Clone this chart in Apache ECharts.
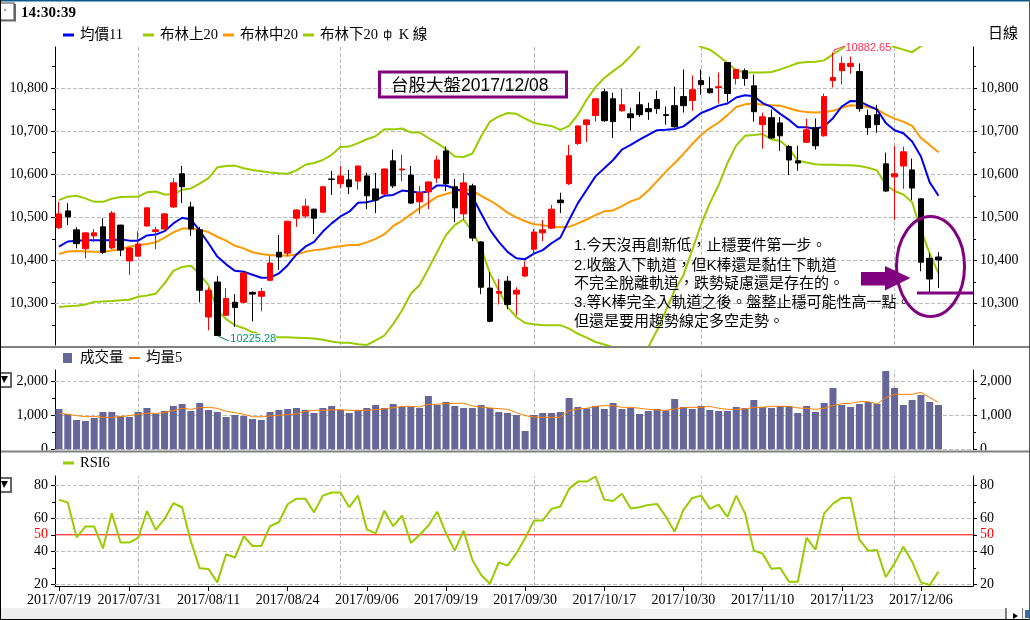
<!DOCTYPE html>
<html><head><meta charset="utf-8">
<style>html,body{margin:0;padding:0;background:#fff;overflow:hidden}#c{width:1030px;height:620px}</style>
<script src="https://cdn.jsdelivr.net/npm/echarts@6/dist/echarts.min.js"></script>
</head><body><div id="c"></div>
<script>
const opens=[10476,10515,10471,10427,10457,10478,10429,10482,10399,10410,
10480,10467,10473,10524,10601,10524,10471,10269,10350,10273,
10303,10303,10326,10317,10354,10419,10417,10498,10503,10519,
10512,10589,10578,10587,10584,10596,10566,10554,10631,10610,
10598,10536,10559,10591,10654,10571,10508,10573,10443,10336,
10324,10352,10322,10364,10426,10464,10475,10540,10578,10671,
10715,10736,10791,10775,10747,10740,10761,10752,10773,10738,
10759,10780,10771,10817,10798,10801,10859,10822,10840,10805,
10715,10731,10719,10664,10631,10674,10708,10689,10817,10840,
10850,10838,10736,10738,10624,10594,10619,10610,10543,10405,10408];
const closes=[10508,10501,10439,10464,10464,10419,10510,10424,10429,10438,
10522,10471,10508,10580,10571,10473,10331,10331,10226,10312,
10291,10371,10322,10328,10394,10408,10491,10517,10526,10498,
10571,10588,10596,10571,10619,10550,10540,10612,10573,10612,
10533,10557,10582,10633,10578,10522,10580,10452,10338,10259,
10328,10298,10331,10384,10466,10471,10519,10534,10643,10712,
10726,10775,10724,10722,10761,10731,10738,10745,10752,10736,
10710,10759,10796,10808,10789,10803,10787,10843,10822,10745,
10733,10684,10689,10633,10626,10703,10666,10780,10824,10857,
10857,10752,10708,10715,10561,10601,10652,10568,10396,10357,10401];
const lows=[10473,10482,10428,10405,10443,10415,10426,10410,10366,10409,
10478,10426,10471,10522,10533,10457,10303,10238,10225.28,10271,
10246,10301,10259,10282,10352,10378,10410,10478,10498,10461,
10510,10552,10568,10554,10564,10519,10510,10552,10568,10584,
10531,10508,10519,10580,10561,10489,10494,10445,10322,10257,
10298,10287,10273,10361,10412,10445,10473,10510,10575,10668,
10675,10722,10722,10684,10745,10701,10733,10726,10740,10715,
10708,10743,10747,10784,10787,10764,10768,10808,10805,10722,
10659,10682,10654,10598,10608,10673,10657,10687,10801,10808,
10833,10745,10691,10696,10559,10494,10566,10540,10375,10326,10336];
const highs=[10536,10533,10477,10465,10473,10498,10515,10483,10430,10468,
10523,10478,10510,10591,10619,10536,10478,10338,10364,10336,
10322,10372,10328,10336,10410,10459,10492,10519,10543,10520,
10573,10608,10619,10610,10620,10603,10603,10613,10657,10645,
10619,10573,10583,10643,10664,10589,10603,10578,10445,10373,
10357,10364,10338,10398,10473,10494,10529,10557,10668,10713,
10727,10776,10798,10789,10798,10754,10791,10766,10794,10757,
10803,10843,10829,10843,10826,10836,10860,10844,10845,10831,
10743,10750,10733,10668,10666,10729,10729,10787,10882.65,10873,
10873,10857,10750,10761,10650,10666,10664,10636,10544,10417,10419];
const ma11=[10432,10444,10446,10447,10447,10447,10447,10449,10446,10446,
10458,10460,10468,10486,10499,10495,10469,10440,10409,10391,
10376,10374,10367,10360,10360,10370,10389,10414,10432,10443,
10467,10486,10502,10513,10534,10535,10540,10550,10552,10562,
10560,10557,10560,10574,10574,10567,10560,10548,10509,10471,
10443,10420,10405,10403,10416,10424,10440,10453,10494,10533,
10564,10595,10614,10633,10657,10668,10680,10691,10702,10703,
10705,10711,10726,10742,10750,10759,10764,10778,10783,10781,
10765,10756,10740,10726,10709,10709,10705,10711,10730,10757,
10770,10769,10759,10750,10719,10702,10695,10676,10641,10581,10550];
const bollUp=[10540,10548,10550,10544,10536,10536,10543,10547,10548,10548,
10558,10560,10553,10553,10564,10567,10578,10591,10616,10619,
10620,10614,10610,10607,10604,10602,10601,10609,10622,10626,
10633,10645,10663,10664,10672,10681,10688,10704,10704,10706,
10697,10697,10684,10672,10658,10641,10640,10648,10688,10722,
10734,10742,10740,10729,10719,10715,10712,10703,10712,10738,
10773,10802,10823,10839,10854,10874,10897,10912,10928,10940,
10940,10928,10909,10895,10889,10874,10858,10841,10836,10836,
10836,10837,10843,10850,10858,10860,10861,10864,10878,10891,
10905,10912,10916,10909,10901,10895,10889,10883,10897,10912,10928];
const bollMid=[10415,10421,10422,10421,10420,10420,10423,10426,10432,10436,
10438,10442,10453,10465,10474,10474,10471,10466,10455,10446,
10434,10428,10419,10415,10412,10412,10411,10414,10420,10424,
10426,10430,10433,10436,10436,10442,10450,10461,10480,10492,
10507,10521,10534,10548,10554,10560,10565,10562,10550,10539,
10526,10511,10500,10491,10484,10482,10478,10477,10478,10486,
10495,10505,10514,10516,10526,10537,10544,10562,10584,10606,
10626,10647,10670,10691,10707,10720,10737,10756,10762,10764,
10761,10760,10759,10753,10747,10744,10743,10744,10747,10754,
10760,10759,10756,10751,10738,10729,10722,10712,10684,10668,10651];
const bollLow=[10292,10294,10295,10298,10304,10305,10306,10308,10309,10316,
10319,10323,10347,10376,10385,10388,10368,10343,10284,10264,
10250,10243,10234,10228,10224,10222,10222,10221,10220,10219,
10216,10212,10209,10209,10206,10204,10215,10226,10253,10284,
10323,10343,10381,10420,10459,10482,10495,10467,10428,10370,
10331,10292,10269,10255,10252,10250,10250,10250,10242,10230,
10221,10211,10205,10199,10184,10160,10184,10199,10238,10284,
10331,10366,10424,10484,10533,10575,10626,10667,10689,10691,
10693,10681,10677,10660,10631,10627,10623,10622,10622,10621,
10621,10619,10615,10609,10575,10561,10553,10535,10471,10416,10370];
const volume=[1186,1039,862,833,921,1098,1098,980,951,1098,
1215,1039,1127,1274,1333,1127,1362,1156,1098,951,
1009,980,892,862,1098,1156,1186,1215,1156,1068,
1215,1274,1156,1068,1156,1215,1303,1215,1333,1245,
1245,1215,1568,1303,1392,1274,1215,1215,1303,1215,
1098,1068,1009,539,1009,1068,1068,1098,1509,1245,
1205,1274,1186,1362,1186,1225,1039,1127,1186,1147,
1480,1245,1186,1274,1156,1127,1127,1245,1215,1450,
1245,1215,1274,1274,1068,1274,1098,1362,1803,1303,
1245,1333,1392,1333,2303,1803,1303,1450,1597,1392,1303];
const volAvg5=[1058,1029,990,960,960,941,941,960,990,1029,
1058,1058,1078,1137,1205,1176,1225,1235,1205,1117,
1078,1029,960,951,980,1000,1019,1039,1117,1147,
1147,1156,1166,1147,1147,1147,1166,1186,1225,1264,
1264,1245,1323,1323,1343,1352,1352,1274,1245,1215,
1196,1176,1078,990,951,941,941,941,1137,1186,
1205,1264,1284,1284,1235,1235,1205,1176,1156,1147,
1186,1225,1235,1235,1264,1205,1176,1176,1186,1235,
1235,1264,1264,1264,1215,1205,1176,1205,1284,1343,
1352,1401,1401,1333,1519,1617,1617,1617,1676,1519,1382];
const rsi6=[71.3,69.5,48.5,55,55,41.8,63,45.3,45.3,48.1,
64.4,53,59.6,69.1,66.7,45.9,29.7,29.3,21.2,38.2,
36.2,49.1,43.2,43.2,55.2,57.6,68.5,71.9,71.9,63.6,
73.7,75.6,75.6,66.7,73.7,53.3,50.9,64.6,55.2,61.6,
45.1,49.9,55.6,64,50.9,40.4,52.5,34.7,25.7,20.4,
33.3,31.3,38.8,47.9,58.6,58.6,65.7,67.1,77.8,82.2,
82.2,85.3,71.3,70.5,74.9,65.9,66.7,68.1,68.7,61,
51.9,65.1,72.3,73.7,65.7,68.3,60.8,73.7,63,40.4,
38.6,29.5,29.9,21.6,21.6,48.3,41,63,68.9,72.3,
72.5,47.1,40.4,40.8,24.4,32.7,42.8,33.7,21.2,19.6,27.7];
const tickIndex=[0,8,17,26,35,44,53,62,71,80,89,98];
const tickLabels=['2017/07/19','2017/07/31','2017/08/11','2017/08/24','2017/09/06','2017/09/19','2017/09/30','2017/10/17','2017/10/30','2017/11/10','2017/11/23','2017/12/06'];
const monthStarts=[9,32,54,73,95];
const priceTicks=[10300,10400,10500,10600,10700,10800];
const priceMinor=[10250,10350,10450,10550,10650,10750,10850];
const volTicks=[0,1000,2000];
const volMinor=[500,1500];
const rsiTicks=[20,40,50,60,80];
const rsiGrid=[20,40,60,80];
const rsiMinor=[30,70];
const rsiLevel=50;
const noteLines=['1.今天沒再創新低，止穩要件第一步。','2.收盤入下軌道，但K棒還是黏住下軌道','不完全脫離軌道，跌勢疑慮還是存在的。','3.等K棒完全入軌道之後。盤整止穩可能性高一點。','但還是要用趨勢線定多空走勢。'];
const noteY=[246,265.5,284,303,322];

const FF='"Liberation Serif","Noto Sans CJK TC",serif';
const FFT='"Liberation Sans","Noto Sans CJK TC",sans-serif';
const GRID_C='#bcbcbc', PURPLE='#800080', GREEN='#99CC00', ORANGE='#FF9900', BLUE='#0000F0';
const DASH={color:GRID_C,type:'dashed',width:1};
const pts=a=>a.map((v,i)=>[i,v]);
const XMIN=-0.455, XMAX=103.92;

const grids=[
 {left:55,right:57,top:47,height:298},
 {left:55,right:57,top:370,height:79.3},
 {left:55,right:57,top:476,height:110}
];
function xAx(g,show){return {type:'value',gridIndex:g,min:XMIN,max:XMAX,show:show,
 splitLine:{show:false},axisLine:{show:true,onZero:false,lineStyle:{color:'#000'}},
 axisTick:{show:true,length:5,customValues:tickIndex,lineStyle:{color:'#000'}},
 axisLabel:{show:true,customValues:tickIndex,margin:7,color:'#000',fontFamily:FF,fontSize:14,
  formatter:v=>tickLabels[tickIndex.indexOf(v)]||''}};}
function yAxes(g,min,max,ticks,minor,red){
 const fmt=v=>Number(v).toLocaleString('en-US');
 const col=v=>(Number(String(v).replace(/,/g,''))===red?'#ff0000':'#000');
 const major=(pos)=>({type:'value',gridIndex:g,position:pos,min:min,max:max,
  axisLine:{show:true,onZero:false,lineStyle:{color:'#000'}},
  axisTick:{show:true,length:4,customValues:ticks,lineStyle:{color:'#000'}},
  axisLabel:{show:true,customValues:ticks,margin:7,fontFamily:FF,fontSize:14,color:col,formatter:fmt},
  splitLine:{show:false}});
 const small=pos=>({type:'value',gridIndex:g,position:pos,min:min,max:max,
  axisLine:{show:false,onZero:false},
  axisTick:{show:true,length:3,customValues:minor,lineStyle:{color:'#000'}},
  axisLabel:{show:false},splitLine:{show:false}});
 return [major('left'),major('right'),small('left'),small('right')];
}
const yAxis=[].concat(
 yAxes(0,10204,10895,priceTicks,priceMinor),
 yAxes(1,0,2332,volTicks,volMinor),
 yAxes(2,19,85.6,rsiTicks,rsiMinor,rsiLevel));

const mk=(hLevels)=>({silent:true,symbol:'none',animation:false,z:1,label:{show:false},lineStyle:DASH,
 data:monthStarts.map(x=>({xAxis:x})).concat(hLevels.map(v=>({yAxis:v})))});
const line=(name,data,color,w,xi,yi,z,extra)=>Object.assign({type:'line',name,data:pts(data),xAxisIndex:xi,yAxisIndex:yi,
 symbol:'none',clip:true,z:z,lineStyle:{color,width:w},itemStyle:{color}},extra||{});

const candle=opens.map((o,i)=>[i,o,closes[i],lows[i],highs[i]]);
const series=[
 line('布林上20',bollUp,GREEN,2,0,0,2,{markLine:mk(priceTicks)}),
 line('布林下20',bollLow,GREEN,2,0,0,2),
 line('布林中20',bollMid,ORANGE,2,0,0,2),
 line('均價11',ma11,BLUE,2,0,0,2),
 {type:'candlestick',name:'K 線',data:candle,xAxisIndex:0,yAxisIndex:0,barWidth:6,z:4,clip:true,
  itemStyle:{color:'#ff0000',color0:'#000',borderColor:'#ff0000',borderColor0:'#000',borderWidth:1},
  markPoint:{silent:true,animation:false,symbol:'circle',symbolSize:0,data:[
   {coord:[18,10225.28],label:{show:true,formatter:'10225.28',position:'right',distance:13,offset:[0,3],fontFamily:FFT,fontSize:11,color:'#00996B',backgroundColor:'#fff'}},
   {coord:[88,10882.65],label:{show:true,formatter:'10882.65',position:'right',distance:12.5,offset:[0,-4],fontFamily:FFT,fontSize:11,color:'#FF3355',backgroundColor:'#fff'}}
  ]}},
 {type:'bar',name:'成交量',data:pts(volume),xAxisIndex:1,yAxisIndex:4,barWidth:7,z:3,itemStyle:{color:'#666699'},markLine:mk(volTicks)},
 line('均量5',volAvg5,'#FF8000',1,1,4,4),
 {type:'line',name:'RSI50',data:[[XMIN,rsiLevel],[XMAX,rsiLevel]],xAxisIndex:2,yAxisIndex:8,symbol:'none',z:3,lineStyle:{color:'#ff0000',width:1},itemStyle:{color:'#ff0000'}},
 line('RSI6',rsi6,GREEN,2,2,8,4,{markLine:mk(rsiGrid)})
];
const leg=(name,left,cy,opt)=>Object.assign({selectedMode:false,left:left,top:cy-8,padding:0,itemGap:0,itemWidth:11,itemHeight:3,icon:'rect',
 data:[name],textStyle:{fontFamily:FF,fontSize:14.5,lineHeight:16,color:'#000',padding:[0,0,0,1]}},opt||{});
const legend=[
 leg('均價11',63,35),leg('布林上20',143,35),leg('布林中20',223,35),leg('布林下20',303,35),
 leg('K 線',384,35,{itemWidth:10,itemHeight:11,
  data:[{name:'K 線',icon:'path://M5 0V14M1 3H9V10H1Z',itemStyle:{color:'transparent',borderColor:'#000',borderWidth:1}}]}),
 leg('成交量',63,358,{itemWidth:9,itemHeight:10,textStyle:{fontFamily:FF,fontSize:14.5,lineHeight:16,color:'#000',padding:[0,0,0,3]}}),
 leg('均量5',129,358,{itemHeight:2}),
 leg('RSI6',63,463)
];
const T=(text,x,y,size,extra)=>({type:'text',z:60,silent:true,style:Object.assign({text,x,y,fontFamily:FF,fontSize:size,fill:'#000',verticalAlign:'middle',align:'left'},extra||{})});
const R=(x,y,width,height,fill,z)=>({type:'rect',z:z||50,silent:true,shape:{x,y,width,height},style:{fill}});
const P=(pts,stroke,lw,z)=>({type:'polyline',z:z||60,silent:true,shape:{points:pts},style:{stroke,lineWidth:lw,fill:null}});
const dropIcon=y=>[
 {type:'rect',z:60,silent:true,shape:{x:-1,y:y+1,width:12,height:14},style:{fill:'#fff',stroke:'#666',lineWidth:2}},
 {type:'polygon',z:61,silent:true,shape:{points:[[1,y+4],[8,y+4],[4,y+11]]},style:{fill:'#000'}}
];
const elements=[
 R(1,450.5,54,6.5,'#fff',50),R(974,450.5,55,6.5,'#fff',50),
 R(0,346,1030,2,'#808080',55),R(0,450.5,1030,2,'#808080',55),
 R(0,608,640,11,'#efefef',50),R(640,608,365,11,'#f3f3f3',50),R(640,608,365,1,'#ffffff',51),
 R(1005,608,2,11,'#808080',51),R(1022,608,1,11,'#808080',51),R(1025,610,4,8,'#3a6ea5',51),
 {type:'polygon',z:52,silent:true,shape:{points:[[1013,613],[1013,619],[1018,616]]},style:{fill:'#000'}},
 R(0,0,1030,1.5,'#0b5a86',70),R(0,0,1,620,'#000',70),R(0,619,1030,1,'#000',70),R(1029,0,1,620,'#555',70),
 {type:'rect',z:60,silent:true,shape:{x:-1,y:3,width:15,height:17},style:{fill:'#fff',stroke:'#808080',lineWidth:1.5}},
 R(14,4,2,17,'#666',60),R(0,20,16,1.5,'#666',60),
 {type:'circle',z:61,silent:true,shape:{cx:5,cy:10,r:1},style:{fill:'#d040d0'}},
 T('14:30:39',21,13.5,15,{fontWeight:'bold'}),
 T('日線',988,34,15),
 {type:'rect',z:60,silent:true,shape:{x:379.5,y:72,width:187,height:25},style:{fill:null,stroke:PURPLE,lineWidth:3}},
 T('台股大盤2017/12/08',391,86.5,17.5,{fontFamily:FFT}),
 ...noteLines.map((t,i)=>T(t,574,noteY[i],15,{fontFamily:FFT})),
 {type:'ellipse',z:62,silent:true,shape:{cx:930.5,cy:266.5,rx:34,ry:50},style:{fill:null,stroke:PURPLE,lineWidth:3}},
 {type:'polygon',z:62,silent:true,shape:{points:[[861,272],[885,272],[885,266],[910.5,278],[885,290.5],[885,285.5],[861,285.5]]},style:{fill:PURPLE}},
 P([[917,293],[973,293]],PURPLE,3,62),
 P([[218,336],[229,341]],'#008050',1,61),
 P([[834,52],[834,50],[845,46]],'#FF3355',1,61),
 ...dropIcon(372),...dropIcon(477)
];
const chart=echarts.init(document.getElementById('c'),null,{renderer:'canvas'});
chart.setOption({animation:false,backgroundColor:'#fff',grid:grids,
 xAxis:[xAx(0,false),xAx(1,false),xAx(2,true)],yAxis,series,legend,graphic:{elements}});
</script></body></html>
